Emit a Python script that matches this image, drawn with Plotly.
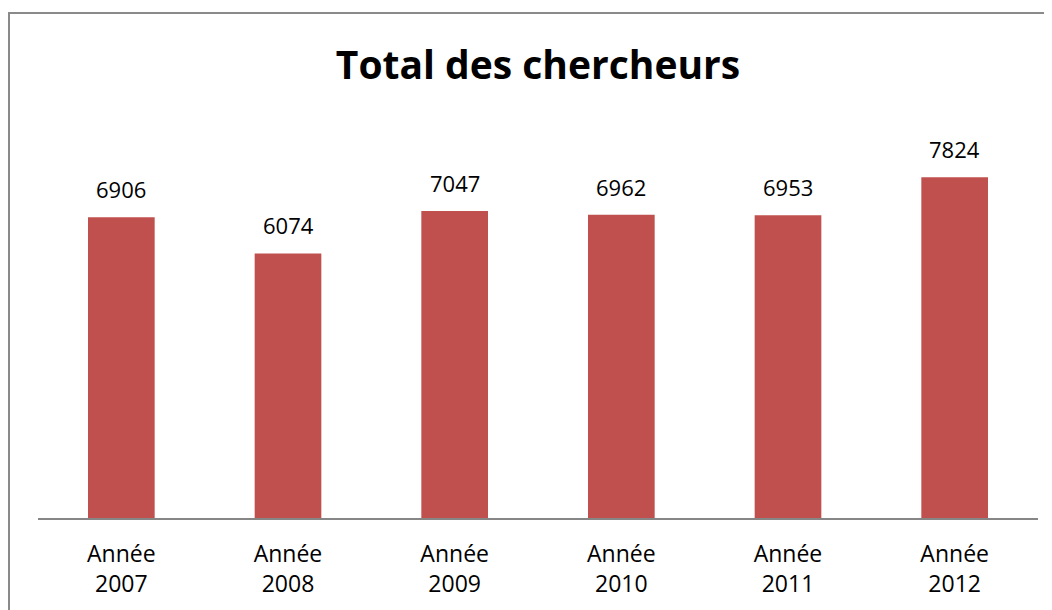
import plotly.graph_objects as go

# données
annees = ["Année<br>2007", "Année<br>2008", "Année<br>2009", "Année<br>2010", "Année<br>2011", "Année<br>2012"]
chercheurs = [6906, 6074, 7047, 6962, 6953, 7824]

bar_color = "#C0504D"
font = "Open Sans"

fig = go.Figure(go.Bar(
    x=annees,
    y=chercheurs,
    marker=dict(color=bar_color, line=dict(width=0)),
    width=0.4,
    hoverinfo="x+y",
))

# valeurs au-dessus des barres
for a, v in zip(annees, chercheurs):
    fig.add_annotation(x=a, y=v, text=str(v), showarrow=False,
                       yanchor="bottom", yshift=11,
                       font=dict(family=font, size=22, color="#000000"))

# cadre du graphique
fig.add_shape(type="rect", xref="paper", yref="paper",
              x0=-0.029, x1=1.2, y0=-0.5, y1=1.288,
              line=dict(color="#8a8a8a", width=2), layer="above")

# la page a une marge de 8px, d'où le décalage
fig.update_layout(
    width=1052,
    height=610,
    margin=dict(l=30, r=22, t=118, b=100),
    paper_bgcolor="white",
    plot_bgcolor="white",
    showlegend=False,
    title=dict(text="<b>Total des chercheurs</b>", x=0.5, xref="paper", xanchor="center",
               y=0.906, yref="container", yanchor="middle",
               font=dict(family=font, size=39, color="#000000")),
    xaxis=dict(
        showline=True, linecolor="#868686", linewidth=1.5,
        ticks="", showgrid=False, ticklabelstandoff=15,
        tickfont=dict(family=font, size=23, color="#000000"),
    ),
    yaxis=dict(
        range=[0, 9000], visible=False, showgrid=False, zeroline=False,
    ),
)

fig.write_html("out.html")
